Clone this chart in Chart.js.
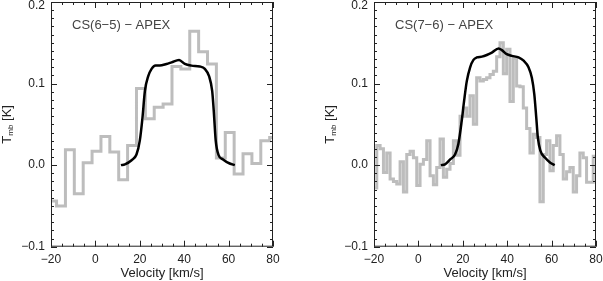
<!DOCTYPE html>
<html>
<head>
<meta charset="utf-8">
<script src="https://cdn.jsdelivr.net/npm/chart.js@4.4.1/dist/chart.umd.min.js"></script>
<style>
  html, body { margin: 0; padding: 0; background: #fff; }
  #wrap { position: relative; width: 603px; height: 281px; }
  canvas { position: absolute; top: 0; }
</style>
</head>
<body>
<div id="wrap">
  <canvas id="left" width="300" height="281" style="left:0"></canvas>
  <canvas id="right" width="303" height="281" style="left:300px"></canvas>
</div>
<script>
// CS(6-5) observed spectrum, 4 km/s channels (centres)
const obs65Vel = [-19.5, -15.5, -11.5, -7.5, -3.5, 0.5, 4.5, 8.5, 12.5, 16.5, 20.5, 24.5, 28.5,
  32.5, 36.5, 40.5, 44.5, 48.5, 52.5, 56.5, 60.5, 64.5, 68.5, 72.5, 76.5, 80.5];
const obs65Tmb = [-0.044, -0.050, 0.019, -0.035, 0.003, 0.017, 0.035, 0.016, -0.018, 0.024, 0.094, 0.057, 0.071,
  0.075, 0.121, 0.118, 0.164, 0.139, 0.124, 0.0086, 0.040, -0.011, 0.014, 0.002, 0.030, 0.034];

// CS(6-5) model
const mod65Vel = [11.5, 13.3, 16.3, 18.5, 20, 21.2, 22.3, 23.8, 25.3, 27.1, 29, 32, 34.3, 37.7,
  40.3, 43.3, 47, 49.3, 51.2, 52.6, 53.3, 54.2, 55.4, 57.5, 60.5, 62.8];
const mod65Tmb = [0.000, 0.001, 0.006, 0.013, 0.030, 0.058, 0.091, 0.109, 0.118, 0.122, 0.122, 0.124, 0.126, 0.129,
  0.124, 0.122, 0.121, 0.118, 0.109, 0.091, 0.067, 0.030, 0.013, 0.007, 0.002, 0.000];

// CS(7-6) observed spectrum, 1.5 km/s channels (centres)
const obs76Vel = [-19.5, -18, -16.5, -15, -13.5, -12, -10.5, -9, -7.5, -6, -4.5, -3, -1.5, 0, 1.5, 3, 4.5, 6,
  7.5, 9, 10.5, 12, 13.5, 15, 16.5, 18, 19.5, 21, 22.5, 24, 25.5, 27, 28.5, 30, 31.5, 33, 34.5, 36,
  37.5, 39, 40.5, 42, 43.5, 45, 46.5, 48, 49.5, 51, 52.5, 54, 55.5, 57, 58.5, 60, 61.5, 63, 64.5, 66,
  67.5, 69, 70.5, 72, 73.5, 75, 76.5, 78, 79.5, 81];
const obs76Tmb = [-0.028, 0.024, 0.020, -0.009, 0.015, -0.017, -0.020, -0.023, 0.004, -0.033, 0.013, 0.017, 0.009, -0.025, 0.001, 0.007, 0.030, -0.013,
  -0.024, -0.003, 0.032, -0.015, -0.005, 0.002, 0.030, 0.012, 0.060, 0.070, 0.060, 0.085, 0.050, 0.107, 0.103, 0.105, 0.107, 0.111, 0.115, 0.133,
  0.150, 0.112, 0.142, 0.078, 0.131, 0.097, 0.096, 0.070, 0.045, 0.015, 0.038, 0.034, -0.045, 0.013, 0.030, -0.007, 0.024, 0.036, 0.013, -0.017,
  -0.008, -0.003, -0.033, -0.013, 0.015, 0.009, -0.021, -0.021, 0.011, 0.011];

// CS(7-6) model
const mod76Vel = [10.1, 12.0, 14.3, 16.5, 18.0, 19.5, 20.6, 21.8, 23.3, 24.8, 26.3, 28.6, 30.8, 33.1,
  36.1, 37.6, 39.8, 42.1, 45.1, 47.4, 49.6, 51.1, 52.2, 53.1, 53.8, 54.9, 57.1, 59.4, 61.4];
const mod76Tmb = [0.000, 0.001, 0.007, 0.013, 0.026, 0.054, 0.079, 0.103, 0.120, 0.129, 0.132, 0.133, 0.135, 0.138,
  0.143, 0.141, 0.136, 0.134, 0.132, 0.128, 0.120, 0.107, 0.087, 0.058, 0.034, 0.018, 0.009, 0.003, 0.000];

const xTicks = [-20, 0, 20, 40, 60, 80];
const yTicks = [-0.1, 0.0, 0.1, 0.2];

const FONT = '"Liberation Sans", Arial, sans-serif';
const INK = '#222';

function pts(xs, ys) {
  return xs.map((x, i) => ({ x: x, y: ys[i] }));
}

function fmt(v, digits) {
  const r = Math.round(v * 1000) / 1000;
  return (r < 0 ? '\u2212' : '') + Math.abs(r).toFixed(digits);
}

// box with inward IDL-style ticks, y labels, axis titles and label
const framePlugin = {
  id: 'frame',
  afterDraw(chart, args, opts) {
    const ctx = chart.ctx;
    const ca = chart.chartArea;
    const xs = chart.scales.x, ys = chart.scales.y;
    ctx.save();
    ctx.strokeStyle = INK;
    ctx.lineWidth = 1;
    ctx.strokeRect(ca.left + 0.5, ca.top + 0.5, ca.right - ca.left - 1, ca.bottom - ca.top - 1);
    ctx.beginPath();
    for (let v = -20; v <= 80; v += 5) {
      const px = Math.round(xs.getPixelForValue(v)) + 0.5;
      const len = v % 20 === 0 ? 6 : 3;
      ctx.moveTo(px, ca.bottom); ctx.lineTo(px, ca.bottom - len);
      ctx.moveTo(px, ca.top); ctx.lineTo(px, ca.top + len);
    }
    for (let k = -10; k <= 20; k++) {
      const py = Math.round(ys.getPixelForValue(k / 100)) + 0.5;
      const len = k % 10 === 0 ? 6 : 3;
      ctx.moveTo(ca.left, py); ctx.lineTo(ca.left + len, py);
      ctx.moveTo(ca.right, py); ctx.lineTo(ca.right - len, py);
    }
    ctx.stroke();

    ctx.fillStyle = INK;
    ctx.font = '12px ' + FONT;
    ctx.textAlign = 'right';
    ctx.textBaseline = 'middle';
    yTicks.forEach(v => {
      const py = Math.max(ys.getPixelForValue(v), 6);
      ctx.fillText(fmt(v, 1), ca.left - 6, py);
    });

    ctx.font = '13px ' + FONT;
    ctx.textAlign = 'center';
    ctx.fillText('Velocity [km/s]', (ca.left + ca.right) / 2, 273.5);

    // rotated T_mb [K]
    ctx.save();
    ctx.translate(ca.left - 44, (ca.top + ca.bottom) / 2);
    ctx.rotate(-Math.PI / 2);
    ctx.textAlign = 'left';
    const wT = ctx.measureText('T').width;
    ctx.font = '8px ' + FONT;
    const wMb = ctx.measureText('mb').width;
    ctx.font = '13px ' + FONT;
    const wK = ctx.measureText(' [K]').width;
    let x0 = -(wT + wMb + wK) / 2;
    ctx.fillText('T', x0, 0);
    ctx.font = '8px ' + FONT;
    ctx.fillText('mb', x0 + wT, 4);
    ctx.font = '13px ' + FONT;
    ctx.fillText(' [K]', x0 + wT + wMb, 0);
    ctx.restore();

    ctx.fillStyle = '#444';
    ctx.font = '13px ' + FONT;
    ctx.textAlign = 'left';
    ctx.fillText(opts.label, ca.left + 21, 25);
    ctx.restore();
  }
};

function makeChart(id, obsV, obsT, modV, modT, yWidth, padRight, label) {
  const ctx = document.getElementById(id).getContext('2d');
  return new Chart(ctx, {
    type: 'line',
    data: {
      datasets: [
        {
          data: pts(modV, modT),
          borderColor: '#000',
          borderWidth: 2.5,
          pointRadius: 0,
          cubicInterpolationMode: 'monotone',
          order: 0
        },
        {
          data: pts(obsV, obsT),
          borderColor: '#bdbdbd',
          borderWidth: 3,
          pointRadius: 0,
          stepped: 'middle',
          order: 1
        }
      ]
    },
    options: {
      responsive: false,
      animation: false,
      layout: { padding: { left: 0, right: padRight, top: 2, bottom: 0 } },
      plugins: {
        legend: { display: false },
        tooltip: { enabled: false },
        frame: { label: label }
      },
      scales: {
        x: {
          type: 'linear',
          min: -20, max: 80,
          afterBuildTicks: s => { s.ticks = xTicks.map(v => ({ value: v })); },
          afterFit: s => { s.height = 34.3; s.paddingLeft = 0; s.paddingRight = 0; },
          grid: { display: false, drawTicks: false },
          border: { display: false },
          ticks: {
            padding: 6,
            maxRotation: 0,
            color: INK,
            font: { family: FONT, size: 12 },
            callback: v => fmt(v, 0)
          }
        },
        y: {
          type: 'linear',
          min: -0.1, max: 0.2,
          afterBuildTicks: s => { s.ticks = yTicks.map(v => ({ value: v })); },
          afterFit: s => { s.width = yWidth; s.paddingTop = 0; s.paddingBottom = 0; },
          grid: { display: false, drawTicks: false },
          border: { display: false },
          ticks: { display: false }
        }
      }
    },
    plugins: [framePlugin]
  });
}

makeChart('left', obs65Vel, obs65Tmb, mod65Vel, mod65Tmb, 51, 27, 'CS(6\u22125) \u2212 APEX');
makeChart('right', obs76Vel, obs76Tmb, mod76Vel, mod76Tmb, 74, 7, 'CS(7\u22126) \u2212 APEX');
</script>
</body>
</html>
